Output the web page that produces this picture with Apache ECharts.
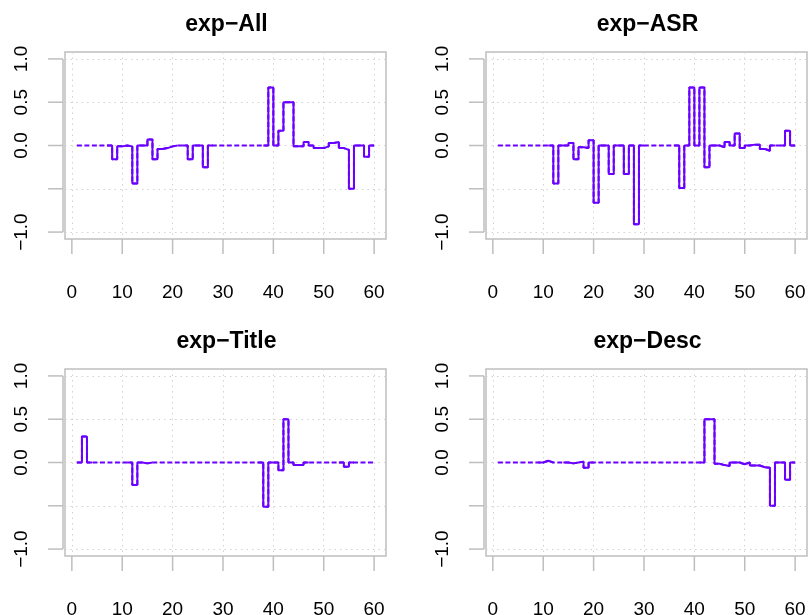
<!DOCTYPE html>
<html>
<head>
<meta charset="utf-8">
<script src="https://cdn.jsdelivr.net/npm/echarts@6/dist/echarts.min.js"></script>
<style>
  html, body { margin: 0; padding: 0; background: #fff; }
  #chart { width: 808px; height: 615px; }
</style>
</head>
<body>
<div id="chart"></div>
<script>
// panel titles
var titles = ['exp\u2212All', 'exp\u2212ASR', 'exp\u2212Title', 'exp\u2212Desc'];

// tick values
var xTicks = [0, 10, 20, 30, 40, 50, 60];
var yTicks = [-1, -0.5, 0, 0.5, 1];
var yLabels = [-1, 0, 0.5, 1];

// one value per index 1..60
var expAll = [
    0, 0, 0, 0, 0, 0, 0, -0.16, -0.01, 0,
    -0.01, -0.44, 0, 0, 0.07, -0.16, -0.04, -0.03, -0.01, 0,
    0, 0, -0.16, 0, 0, -0.25, 0, 0, 0, 0,
    0, 0, 0, 0, 0, 0, 0, 0, 0.67, 0,
    0.17, 0.5, 0.5, -0.01, -0.01, 0.04, 0, -0.03, -0.03, -0.01,
    0.03, 0.04, -0.03, -0.05, -0.5, 0, 0, -0.13, 0, 0
];
var expAsr = [
    0, 0, 0, 0, 0, 0, 0, 0, 0, 0,
    0, -0.44, 0, 0, 0.03, -0.16, -0.02, -0.03, 0.06, -0.66,
    0, 0, -0.33, 0, 0, -0.33, 0, -0.91, 0, 0,
    0, 0, 0, 0, 0, 0, -0.49, 0, 0.67, 0,
    0.67, -0.25, 0, 0, -0.02, 0.04, 0, 0.14, -0.03, 0,
    0.01, 0.01, -0.04, -0.06, 0, 0, 0, 0.17, 0, 0
];
var expTitle = [
    0, 0.3, 0, 0, 0, 0, 0, 0, 0, 0,
    0, -0.26, 0, -0.01, 0, 0, 0, 0, 0, 0,
    0, 0, 0, 0, 0, 0, 0, 0, 0, 0,
    0, 0, 0, 0, 0, 0, 0, -0.51, 0, 0,
    -0.09, 0.5, 0, -0.03, -0.03, 0, 0, 0, 0, 0,
    0, 0, 0, -0.05, 0, 0, 0, 0, 0, 0
];
var expDesc = [
    0, 0, 0, 0, 0, 0, 0, 0, 0, 0.02,
    0, 0, 0, 0, -0.01, 0, 0.01, -0.06, 0, 0,
    0, 0, 0, 0, 0, 0, 0, 0, 0, 0,
    0, 0, 0, 0, 0, 0, 0, 0, 0, 0,
    0, 0.5, 0.5, -0.015, -0.03, -0.04, 0, 0, -0.02, 0,
    -0.035, -0.035, -0.055, -0.06, -0.5, 0, 0, -0.2, 0, 0
];
var panels = [expAll, expAsr, expTitle, expDesc];

var lineColor = '#6a00ff';
var boxColor = '#bebebe';
var font = 'Liberation Sans, Arial, sans-serif';
var xRange = [-1.36, 62.36];
var yRange = [-1.08, 1.08];

// plot boxes (left, top) of the 2x2 layout
var boxes = [[65, 52], [486, 52], [65, 369], [486, 369]];
var boxW = 321, boxH = 187, tickLen = 15;

var chart = echarts.init(document.getElementById('chart'));

var grids = [], xAxes = [], yAxes = [], series = [], graphics = [];

var gridStyle = { show: true, lineStyle: { color: '#d3d3d3', width: 1, type: [1.5, 4] } };
var tickLine = { stroke: boxColor, lineWidth: 1.5 };

// outward R-style ticks, placed through the axis scales
function xTickItem(params, api) {
    var p = api.coord([api.value(0), yRange[0]]);
    return {
        type: 'line',
        shape: { x1: p[0], y1: p[1], x2: p[0], y2: p[1] + tickLen },
        style: tickLine
    };
}
function yTickItem(params, api) {
    var p = api.coord([xRange[0], api.value(1)]);
    return {
        type: 'line',
        shape: { x1: p[0] - 2 - tickLen, y1: p[1], x2: p[0] - 2, y2: p[1] },
        style: tickLine
    };
}
function yAxisLineItem(params, api) {
    var a = api.coord([xRange[0], yTicks[0]]);
    var b = api.coord([xRange[0], yTicks[yTicks.length - 1]]);
    return {
        type: 'line',
        shape: { x1: a[0] - 2, y1: a[1], x2: b[0] - 2, y2: b[1] },
        style: tickLine
    };
}

boxes.forEach(function (b, i) {
    grids.push({
        left: b[0], top: b[1], width: boxW, height: boxH, outerBoundsMode: 'none',
        show: true, borderColor: boxColor, borderWidth: 1.5
    });
    xAxes.push({
        gridIndex: i, type: 'value', min: xRange[0], max: xRange[1],
        axisLine: { show: false, onZero: false },
        axisTick: { show: false, customValues: xTicks },
        axisLabel: { customValues: xTicks, margin: 44, fontSize: 19, fontFamily: font, color: '#000' },
        splitLine: gridStyle
    });
    yAxes.push({
        gridIndex: i, type: 'value', min: yRange[0], max: yRange[1],
        axisLine: { show: false, onZero: false },
        axisTick: { show: false, customValues: yTicks },
        axisLabel: {
            customValues: yLabels, rotate: 90, margin: 34, fontSize: 19, fontFamily: font, color: '#000',
            formatter: function (v) {
                return v < 0 ? '\u2212' + Math.abs(v).toFixed(1) : v.toFixed(1);
            }
        },
        splitLine: gridStyle
    });

    var vals = panels[i];
    var full = vals.map(function (v, k) { return [k + 1, v]; });
    // solid line only around non-zero steps, long flat runs show the dashed line
    var solid = vals.map(function (v, k) {
        var keep = v !== 0 || (k > 0 && vals[k - 1] !== 0) || (k < vals.length - 1 && vals[k + 1] !== 0);
        return keep ? [k + 1, v] : [k + 1, null];
    });

    series.push({
        type: 'line', xAxisIndex: i, yAxisIndex: i, step: 'end', symbol: 'none',
        data: full, lineStyle: { color: lineColor, width: 2, type: [5, 2.5] }, z: 2
    });
    series.push({
        type: 'line', xAxisIndex: i, yAxisIndex: i, step: 'end', symbol: 'none',
        data: solid, connectNulls: false, lineStyle: { color: lineColor, width: 2 }, z: 3
    });

    // tick marks and the short y axis line
    series.push({
        type: 'custom', xAxisIndex: i, yAxisIndex: i, clip: false, silent: true,
        data: xTicks.map(function (v) { return [v, yRange[0]]; }),
        renderItem: xTickItem, z: 4
    });
    series.push({
        type: 'custom', xAxisIndex: i, yAxisIndex: i, clip: false, silent: true,
        data: yTicks.map(function (v) { return [xRange[0], v]; }),
        renderItem: yTickItem, z: 4
    });
    series.push({
        type: 'custom', xAxisIndex: i, yAxisIndex: i, clip: false, silent: true,
        data: [[xRange[0], 0]],
        renderItem: yAxisLineItem, z: 4
    });

    graphics.push({
        type: 'text',
        x: b[0] + boxW / 2 + 1,
        y: b[1] - 27,
        style: {
            text: titles[i],
            font: 'bold 23px ' + font,
            fill: '#000',
            textAlign: 'center', align: 'center',
            textVerticalAlign: 'middle', verticalAlign: 'middle'
        }
    });
});

chart.setOption({
    animation: false,
    backgroundColor: '#fff',
    grid: grids,
    xAxis: xAxes,
    yAxis: yAxes,
    series: series,
    graphic: graphics
});
</script>
</body>
</html>
